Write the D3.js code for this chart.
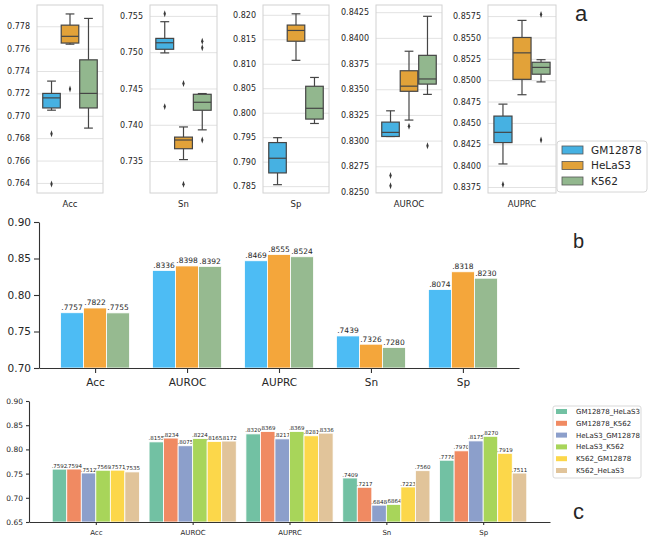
<!DOCTYPE html>
<html lang="en">
<head>
<meta charset="UTF-8">
<title>Cell line comparison</title>
<script src="https://cdn.jsdelivr.net/npm/d3@7/dist/d3.min.js"></script>
<style>
    body { margin: 0; background: #fff; }
    text { font-family: "DejaVu Sans", sans-serif; fill: #262626; }
</style>
</head>
<body>
<svg id="fig" width="651" height="540"></svg>
<script>
// ---- data ----
const cellLines = ["GM12878", "HeLaS3", "K562"];
const boxMetrics = ["Acc", "Sn", "Sp", "AUROC", "AUPRC"];
// five-number summaries per metric: [low whisker, q1, median, q3, high whisker]
const boxGM = [[0.7705, 0.7707, 0.7716, 0.7720, 0.7731], [0.7499, 0.7504, 0.7513, 0.7519, 0.7542], [0.7853, 0.7877, 0.7907, 0.7939, 0.7949], [0.8304, 0.8304, 0.8308, 0.8318, 0.8329], [0.8402, 0.8427, 0.8439, 0.8458, 0.8472]];
const boxHe = [[0.7764, 0.7765, 0.7771, 0.7781, 0.7791], [0.7352, 0.7367, 0.7379, 0.7383, 0.7397], [0.8107, 0.8146, 0.8168, 0.8179, 0.8202], [0.8320, 0.8348, 0.8353, 0.8368, 0.8387], [0.8483, 0.8501, 0.8532, 0.8550, 0.8570]];
const boxK = [[0.7689, 0.7707, 0.7720, 0.7750, 0.7787], [0.7393, 0.7420, 0.7431, 0.7442, 0.7443], [0.7978, 0.7987, 0.8009, 0.8054, 0.8072], [0.8345, 0.8355, 0.8360, 0.8383, 0.8421], [0.8498, 0.8507, 0.8515, 0.8521, 0.8524]];
const outGM = [[0.7684, 0.7639], [0.7553, 0.7425], [], [0.8266, 0.8256], [0.8378]];
const outHe = [[0.7724], [0.7457, 0.7318], [], [0.8314], []];
const outK = [[], [0.7515, 0.7506, 0.7379], [], [0.8295], [0.8577, 0.8430]];
const boxTicks = [
    [0.764, 0.766, 0.768, 0.770, 0.772, 0.774, 0.776, 0.778],
    [0.735, 0.740, 0.745, 0.750, 0.755],
    [0.785, 0.790, 0.795, 0.800, 0.805, 0.810, 0.815, 0.820],
    [0.8250, 0.8275, 0.8300, 0.8325, 0.8350, 0.8375, 0.8400, 0.8425],
    [0.8375, 0.8400, 0.8425, 0.8450, 0.8475, 0.8500, 0.8525, 0.8550, 0.8575]];
const boxTickFmt = [".3f", ".3f", ".3f", ".4f", ".4f"];
const boxDomains = [[0.7631, 0.7799], [0.7306, 0.7565], [0.7836, 0.8220], [0.8249, 0.8432], [0.8368, 0.8588]];

const barMetrics = ["Acc", "AUROC", "AUPRC", "Sn", "Sp"];
const bGM = [0.7757, 0.8336, 0.8469, 0.7439, 0.8074];
const bHe = [0.7822, 0.8398, 0.8555, 0.7326, 0.8318];
const bK = [0.7755, 0.8392, 0.8524, 0.7280, 0.8230];
const bTicks = [0.70, 0.75, 0.80, 0.85, 0.90];

const crossPairs = ["GM12878_HeLaS3", "GM12878_K562", "HeLaS3_GM12878", "HeLaS3_K562", "K562_GM12878", "K562_HeLaS3"];
const cGM_He = [0.7592, 0.8155, 0.8320, 0.7409, 0.7776];
const cGM_K = [0.7594, 0.8234, 0.8369, 0.7217, 0.7970];
const cHe_GM = [0.7512, 0.8075, 0.8217, 0.6848, 0.8175];
const cHe_K = [0.7569, 0.8224, 0.8369, 0.6864, 0.8270];
const cK_GM = [0.7571, 0.8165, 0.8281, 0.7223, 0.7919];
const cK_He = [0.7535, 0.8172, 0.8336, 0.7560, 0.7511];
const cTicks = [0.65, 0.70, 0.75, 0.80, 0.85, 0.90];

// ---- styles ----
const boxColors = ["#46b1e2", "#e2a239", "#92b78e"];
const barColors = ["#4dbcf4", "#f4a63b", "#96ba90"];
const pairColors = ["#72c1a3", "#f08a62", "#8c9fcb", "#a8d55a", "#fcd74a", "#e1c49a"];
const svg = d3.select("#fig");
svg.append("rect").attr("width", 651).attr("height", 540).attr("fill", "#fff");

// ---- panel a: box plots ----
const boxFrames = [[37, 103], [150, 217], [263, 329], [376, 442], [488, 556]];
const aTop = 5, aBottom = 193;
const boxStats = [boxGM, boxHe, boxK];
const boxOut = [outGM, outHe, outK];

boxMetrics.forEach((m, i) => {
    const [x0, x1] = boxFrames[i];
    const w = x1 - x0;
    const y = d3.scaleLinear().domain(boxDomains[i]).range([aBottom, aTop]);
    const x = d3.scaleBand().domain(cellLines).range([x0 + w * 0.08, x1 - w * 0.08]);
    const g = svg.append("g");

    const ax = g.append("g").attr("transform", `translate(${x0},0)`)
        .call(d3.axisLeft(y).tickValues(boxTicks[i]).tickSize(-w).tickPadding(7)
            .tickFormat(d3.format(boxTickFmt[i])));
    ax.select(".domain").remove();
    ax.selectAll("line").attr("stroke", "#e2e2e2");
    ax.selectAll("text").style("font-size", "8px").attr("fill", "#262626");

    g.append("rect").attr("x", x0).attr("y", aTop).attr("width", w).attr("height", aBottom - aTop)
        .attr("fill", "none").attr("stroke", "#d2d2d2");

    g.append("text").attr("x", (x0 + x1) / 2).attr("y", 207).attr("text-anchor", "middle")
        .style("font-size", "8.5px").text(m);

    cellLines.forEach((c, j) => {
        const s = boxStats[j][i];
        const cx = x(c) + x.bandwidth() / 2;
        const bw = x.bandwidth() * 0.95;
        const stroke = "#454545";
        g.append("line").attr("x1", cx).attr("x2", cx).attr("y1", y(s[0])).attr("y2", y(s[1]))
            .attr("stroke", stroke).attr("stroke-width", 1.2);
        g.append("line").attr("x1", cx).attr("x2", cx).attr("y1", y(s[3])).attr("y2", y(s[4]))
            .attr("stroke", stroke).attr("stroke-width", 1.2);
        [s[0], s[4]].forEach(v => {
            g.append("line").attr("x1", cx - bw / 4).attr("x2", cx + bw / 4).attr("y1", y(v)).attr("y2", y(v))
                .attr("stroke", stroke).attr("stroke-width", 1.2);
        });
        g.append("rect").attr("x", cx - bw / 2).attr("width", bw)
            .attr("y", y(s[3])).attr("height", Math.max(0.5, y(s[1]) - y(s[3])))
            .attr("fill", boxColors[j]).attr("stroke", stroke).attr("stroke-width", 1.2);
        g.append("line").attr("x1", cx - bw / 2).attr("x2", cx + bw / 2).attr("y1", y(s[2])).attr("y2", y(s[2]))
            .attr("stroke", stroke).attr("stroke-width", 1.2);
        g.selectAll(null).data(boxOut[j][i]).join("path")
            .attr("d", d3.symbol(d3.symbolDiamond, 14))
            .attr("transform", d => `translate(${cx},${y(d)}) scale(0.6,1)`)
            .attr("fill", "#3a3a3a");
    });
});

// legend a
const legA = svg.append("g");
legA.append("rect").attr("x", 557).attr("y", 141).attr("width", 90).attr("height", 51).attr("rx", 3)
    .attr("fill", "#fff").attr("stroke", "#d6d6d6");
cellLines.forEach((c, j) => {
    const yy = 150 + j * 15.5;
    legA.append("rect").attr("x", 562).attr("y", yy - 4).attr("width", 21).attr("height", 8)
        .attr("fill", boxColors[j]).attr("stroke", "#555").attr("stroke-width", 0.8);
    legA.append("text").attr("x", 591).attr("y", yy).attr("dy", "0.36em").style("font-size", "10.5px").text(c);
});
svg.append("text").attr("x", 575).attr("y", 21).style("font-family", "Liberation Sans, Arial, sans-serif")
    .style("font-size", "22px").attr("fill", "#111").text("a");

// ---- bar panels ----
function barPanel(opts) {
    const { series, colors, ticks, ydom, yr, xr, xdom, barW, tickFont, catFont, valFont, tickLen, valGap, labelY } = opts;
    const g = svg.append("g");
    const y = d3.scaleLinear().domain(ydom).range(yr);
    const x = d3.scaleLinear().domain(xdom).range(xr);
    const n = series.length;
    const pxPerUnit = (xr[1] - xr[0]) / (xdom[1] - xdom[0]);

    series.forEach((vals, k) => {
        const off = (k - (n - 1) / 2) * barW;
        g.selectAll(null).data(vals).join("rect")
            .attr("x", (d, i) => x(i + off - barW / 2))
            .attr("width", barW * pxPerUnit)
            .attr("y", d => y(d))
            .attr("height", d => y(ydom[0]) - y(d))
            .attr("fill", colors[k]).attr("stroke", "#fff").attr("stroke-width", 0.8);
        g.selectAll(null).data(vals).join("text")
            .attr("x", (d, i) => x(i + off))
            .attr("y", d => y(d) - valGap)
            .attr("text-anchor", "middle")
            .style("font-size", valFont + "px").attr("fill", "#333")
            .text(d => d.toFixed(4).slice(1));
    });

    const ya = g.append("g").attr("transform", `translate(${xr[0]},0)`)
        .call(d3.axisLeft(y).tickValues(ticks).tickFormat(d3.format(".2f")).tickSize(tickLen).tickSizeOuter(0));
    const xa = g.append("g").attr("transform", `translate(0,${yr[0]})`)
        .call(d3.axisBottom(x).tickValues(d3.range(barMetrics.length)).tickFormat(i => barMetrics[i])
            .tickSize(tickLen).tickSizeOuter(0));
    [ya, xa].forEach(a => {
        a.selectAll("line, .domain").attr("stroke", "#333").attr("stroke-width", 1.1);
        a.selectAll("text").attr("fill", "#262626");
    });
    ya.selectAll("text").style("font-size", tickFont + "px");
    xa.selectAll("text").style("font-size", catFont + "px").attr("y", null).attr("dy", null)
        .attr("transform", `translate(0,${labelY})`);
}

barPanel({
    series: [bGM, bHe, bK], colors: barColors, ticks: bTicks,
    ydom: [0.70, 0.90], yr: [368, 222], xdom: [-0.61, 4.61], xr: [39, 519],
    barW: 0.25, tickFont: 10.5, catFont: 10.5, valFont: 7.5, tickLen: 5, valGap: 2.5, labelY: 18
});
svg.append("text").attr("x", 573).attr("y", 248).style("font-family", "Liberation Sans, Arial, sans-serif")
    .style("font-size", "20px").attr("fill", "#111").text("b");

barPanel({
    series: [cGM_He, cGM_K, cHe_GM, cHe_K, cK_GM, cK_He], colors: pairColors, ticks: cTicks,
    ydom: [0.65, 0.90], yr: [522, 401], xdom: [-0.69, 4.69], xr: [29, 550],
    barW: 0.15, tickFont: 7.5, catFont: 7, valFont: 5.5, tickLen: 3, valGap: 1.5, labelY: 13
});

// legend c
const legC = svg.append("g");
legC.append("rect").attr("x", 553).attr("y", 406).attr("width", 88).attr("height", 72).attr("rx", 2)
    .attr("fill", "#fff").attr("stroke", "#d9d9d9");
crossPairs.forEach((p, k) => {
    const yy = 411.5 + k * 11.8;
    legC.append("rect").attr("x", 556).attr("y", yy - 2.5).attr("width", 11).attr("height", 5).attr("fill", pairColors[k]);
    legC.append("text").attr("x", 576).attr("y", yy).attr("dy", "0.36em").style("font-size", "7px").text(p);
});
svg.append("text").attr("x", 573).attr("y", 519).style("font-family", "Liberation Sans, Arial, sans-serif")
    .style("font-size", "22px").attr("fill", "#111").text("c");
</script>
</body>
</html>
